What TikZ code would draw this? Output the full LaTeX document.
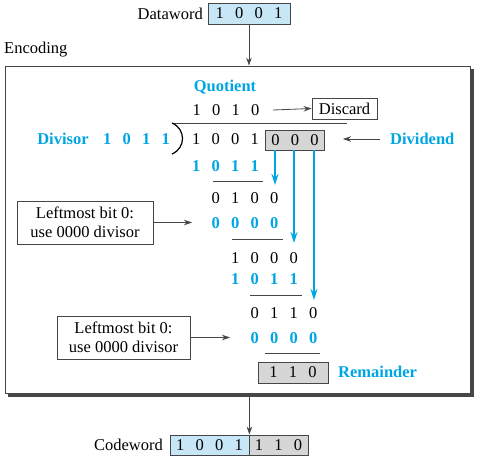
\documentclass[tikz,border=0pt]{standalone}
\usepackage{fontspec}
\setmainfont{Liberation Serif}
\usetikzlibrary{arrows.meta,calc}
\definecolor{cy}{RGB}{0,166,226}
\definecolor{lblue}{RGB}{200,231,246}
\definecolor{lgray}{RGB}{214,214,214}
\definecolor{frm}{RGB}{70,70,70}
\newcommand{\dg}[1]{\makebox[19.5pt]{#1}}
\begin{document}
\begin{tikzpicture}[x=1pt,y=-1pt,
  txt/.style={font=\fontsize{16.5}{19}\selectfont, inner sep=0pt},
  ctxt/.style={font=\fontsize{16.5}{19}\selectfont\bfseries, text=cy, inner sep=0pt},
  bx/.style={draw=frm, line width=0.8pt, inner sep=0pt, font=\fontsize{16.5}{19}\selectfont, align=center},
  blk/.style={draw=frm, line width=0.8pt, -{Stealth[length=8pt,width=5.5pt]}},
  carrow/.style={draw=cy, line width=1.6pt, -{Stealth[length=11pt,width=7pt]}},
  rl/.style={draw=frm, line width=0.8pt}]
\useasboundingbox (0,0) rectangle (478,460);
% top
\node[txt, anchor=east] (dwl) at (203,14) {Dataword};
\node[bx, fill=lblue, minimum width=82pt, minimum height=21pt] (dw) at (249,13.5) {\dg1\dg0\dg0\dg1};
\node[txt, anchor=west] (encl) at (4,50) {Encoding};
\node[draw=frm, line width=0.8pt, minimum width=465pt, minimum height=327pt, inner sep=0pt] (enc) at (237.5,229.5) {};
\draw[draw=frm, line width=2.5pt] ($(enc.south west)+(3,2)$) -- ($(enc.south east)+(2,2)$) -- ($(enc.north east)+(2,3)$);
\draw[blk] (dw.south) -- (dw.south |- enc.north);
% quotient
\node[ctxt] (quot) at (225,87) {Quotient};
\node[txt] (qrow) at (226,110) {\dg1\dg0\dg1\dg0};
\node[bx, minimum width=65pt, minimum height=21pt] (disc) at (344.5,108.5) {Discard};
\draw[blk] (qrow.east) ++(8,0) coordinate (qa) -- (disc.west);
% division bar and bracket
\coordinate (bar1) at (172,123);
\coordinate (bar2) at (347,123);
\draw[rl] (bar1) -- (bar2);
\draw[draw=black, line width=1.2pt] (bar1) .. controls (186,129) and (186,148) .. (172,154);
% divisor
\node[ctxt] (dvl) at (63,139) {Divisor};
\node[ctxt] (dvr) at (136.5,139) {\dg1\dg0\dg1\dg1};
% dividend
\node[txt] (dvd) at (225.5,139) {\dg1\dg0\dg0\dg1};
\node[bx, fill=lgray, minimum width=56pt, minimum height=20pt] (ddz) at (295,140) {\dg0\dg0\dg0};
\node[ctxt, anchor=west] (dvdl) at (390,139) {Dividend};
\draw[blk] (dvdl.west) ++(-10,0) coordinate (da) -- (343,139) coordinate (db);
% steps
\node[ctxt] (r1) at (225.5,166) {\dg1\dg0\dg1\dg1};
\draw[rl] (213,181) -- (263,181);
\node[txt] (r2) at (245,198) {\dg0\dg1\dg0\dg0};
\node[ctxt] (r3) at (245,223) {\dg0\dg0\dg0\dg0};
\draw[rl] (232,239) -- (283,239);
\node[txt] (r4) at (264.5,258) {\dg1\dg0\dg0\dg0};
\node[ctxt] (r5) at (264.5,279) {\dg1\dg0\dg1\dg1};
\draw[rl] (250,295) -- (302,295);
\node[txt] (r6) at (284,313) {\dg0\dg1\dg1\dg0};
\node[ctxt] (r7) at (284,338) {\dg0\dg0\dg0\dg0};
\draw[rl] (265,353) -- (320,353);
\node[bx, fill=lgray, minimum width=70pt, minimum height=21pt] (rem) at (293,372.5) {\dg1\dg1\dg0};
\node[ctxt, anchor=west] (reml) at (338,372) {Remainder};
% cyan arrows
\coordinate (t1) at (275,185);
\coordinate (t2) at (294,243);
\coordinate (t3) at (314,300);
\draw[carrow] (ddz.south -| t1) -- (t1);
\draw[carrow] (ddz.south -| t2) -- (t2);
\draw[carrow] (ddz.south -| t3) -- (t3);
% notes
\node[bx, minimum width=136pt, minimum height=43pt] (n1) at (85,222.5) {Leftmost bit 0:\\use 0000 divisor};
\coordinate (n1t) at (192,222.5);
\draw[blk] (n1.east) -- (n1t);
\node[bx, minimum width=133pt, minimum height=43pt] (n2) at (123.5,337.5) {Leftmost bit 0:\\use 0000 divisor};
\coordinate (n2t) at (230,337.5);
\draw[blk] (n2.east) -- (n2t);
% codeword
\node[bx, fill=lblue, minimum width=79pt, minimum height=20pt] (cw1) at (209.5,445) {\dg1\dg0\dg0\dg1};
\node[bx, fill=lgray, minimum width=59pt, minimum height=20pt] (cw2) at (278.5,445) {\dg1\dg1\dg0};
\node[txt, anchor=east] (cwl) at (163,445) {Codeword};
\draw[blk] ($(enc.south -| cw1.north east)+(0,3)$) -- (cw1.north east);
\end{tikzpicture}
\end{document}
